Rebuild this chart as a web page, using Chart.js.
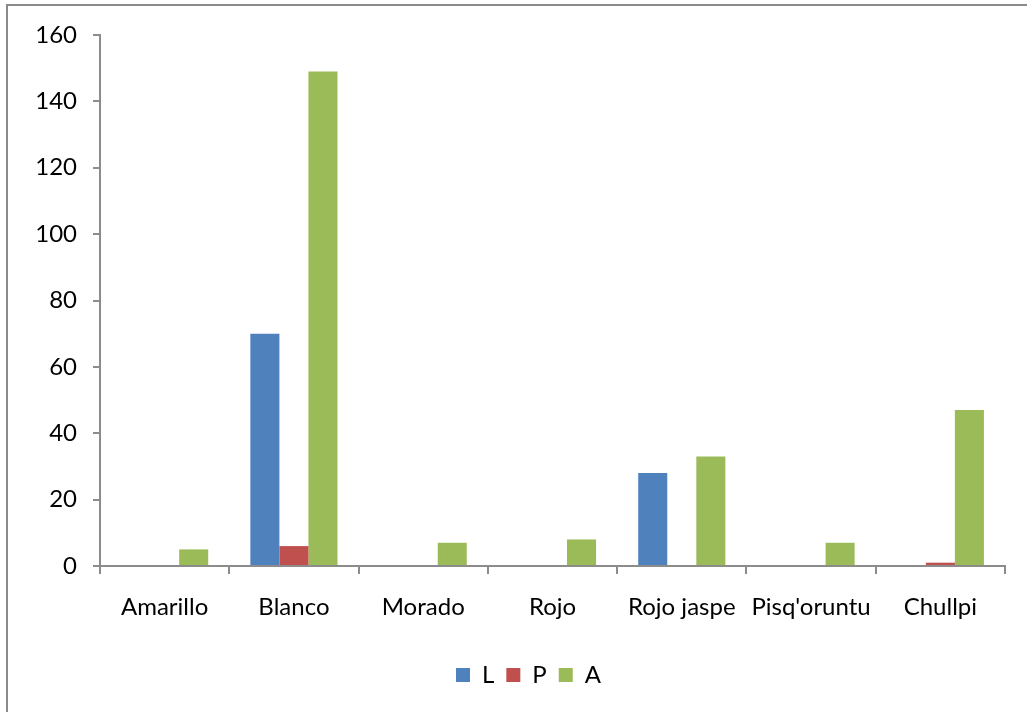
<!DOCTYPE html>
<html>
<head>
<meta charset="utf-8">
<script src="https://cdn.jsdelivr.net/npm/chart.js@4"></script>
<style>
  html, body { margin: 0; padding: 0; background: #fff; overflow: hidden; }
  #wrap { position: relative; width: 1027px; height: 712px; }
  #frame { position: absolute; left: 6px; top: 4px; width: 1100px; height: 800px;
           border: 2px solid #8a8a8a; box-sizing: border-box; pointer-events: none; }
  canvas { position: absolute; left: 0; top: 0; }
</style>
</head>
<body>
<div id="wrap">
  <canvas id="c" width="1027" height="712"></canvas>
  <div id="frame"></div>
</div>
<script>
// Varieties on the category axis
const categories = ["Amarillo", "Blanco", "Morado", "Rojo", "Rojo jaspe", "Pisq'oruntu", "Chullpi"];
// Counts per series
const seriesL = [0, 70, 0, 0, 28, 0, 0];
const seriesP = [0, 6, 0, 0, 0, 0, 1];
const seriesA = [5, 149, 7, 8, 33, 7, 47];
const seriesNames = ["L", "P", "A"];
const seriesColors = ["#4F81BD", "#C0504D", "#9BBB59"];
// Value axis ticks
const yTicks = [0, 20, 40, 60, 80, 100, 120, 140, 160];

const FONT = "Lato, 'Open Sans', sans-serif";
const FONT_SIZE = 24;
const axisColor = "#8c8c8c";

// Nudge the legend row so it sits a little right of the canvas centre
const legendShift = {
  id: "legendShift",
  afterLayout(chart) {
    const lg = chart.legend;
    if (lg) { lg.left += 26; lg.right += 26; }
  }
};

new Chart(document.getElementById("c"), {
  type: "bar",
  plugins: [legendShift],
  data: {
    labels: categories,
    datasets: [seriesL, seriesP, seriesA].map((d, i) => ({
      label: seriesNames[i],
      data: d,
      backgroundColor: seriesColors[i],
      borderWidth: 0,
      categoryPercentage: 0.674,
      barPercentage: 1.0
    }))
  },
  options: {
    responsive: false,
    animation: false,
    devicePixelRatio: 1,
    layout: { padding: { left: 0, right: 22, top: 35, bottom: 15 } },
    plugins: {
      tooltip: { enabled: false },
      legend: {
        position: "bottom",
        labels: {
          color: "#000",
          font: { family: FONT, size: FONT_SIZE },
          boxWidth: 14, boxHeight: 14, padding: 12
        }
      }
    },
    scales: {
      x: {
        afterFit(scale) { scale.height = 85; },
        grid: { display: true, drawOnChartArea: false, drawTicks: true, tickLength: 8,
                color: axisColor, lineWidth: 2, offset: true },
        border: { display: true, color: axisColor, width: 2 },
        ticks: { color: "#000", font: { family: FONT, size: FONT_SIZE }, padding: 19, maxRotation: 0 }
      },
      y: {
        min: 0, max: 160,
        afterBuildTicks(scale) { scale.ticks = yTicks.map(v => ({ value: v })); },
        afterFit(scale) { scale.width = 100; },
        grid: { display: true, drawOnChartArea: false, drawTicks: true, tickLength: 7,
                color: axisColor, lineWidth: 2 },
        border: { display: true, color: axisColor, width: 2 },
        ticks: { color: "#000", font: { family: FONT, size: FONT_SIZE }, padding: 16 }
      }
    }
  }
});
</script>
</body>
</html>
